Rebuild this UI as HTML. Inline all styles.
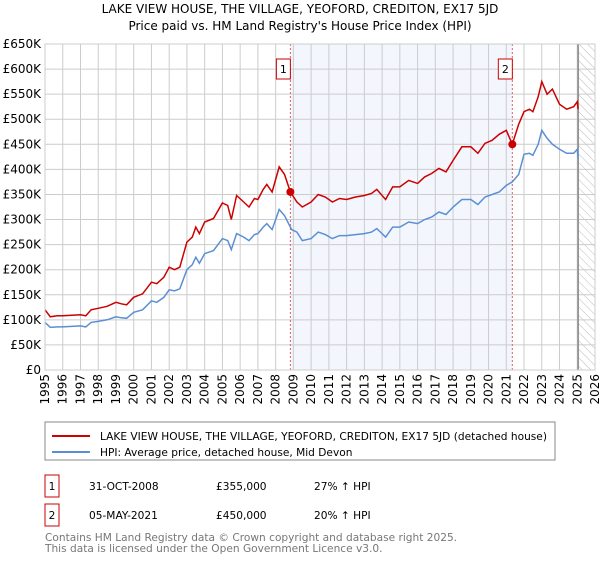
<!DOCTYPE html>
<html><head><meta charset="utf-8"><style>
body{margin:0;background:#fff;font-family:"DejaVu Sans","Liberation Sans",sans-serif;}
svg text{font-family:"DejaVu Sans","Liberation Sans",sans-serif;}
</style></head><body>
<svg id="c" width="600" height="560" viewBox="0 0 600 560" xmlns="http://www.w3.org/2000/svg">
<defs><pattern id="hatch" width="6" height="6" patternUnits="userSpaceOnUse" patternTransform="rotate(-45)"><line x1="0" y1="0" x2="0" y2="6" stroke="#bbb" stroke-width="1"/></pattern></defs>
<text x="300" y="13" text-anchor="middle" font-size="12">LAKE VIEW HOUSE, THE VILLAGE, YEOFORD, CREDITON, EX17 5JD</text>
<text x="300" y="30" text-anchor="middle" font-size="12">Price paid vs. HM Land Registry's House Price Index (HPI)</text>
<g id="plot"></g>
<rect x="45" y="422" width="510" height="38" fill="#fff" stroke="#888"/>
<line x1="52" y1="436" x2="90" y2="436" stroke="#cc0000" stroke-width="2"/>
<text x="100" y="440" font-size="10.6">LAKE VIEW HOUSE, THE VILLAGE, YEOFORD, CREDITON, EX17 5JD (detached house)</text>
<line x1="52" y1="452" x2="90" y2="452" stroke="#5b8fd4" stroke-width="2"/>
<text x="100" y="456" font-size="10.6">HPI: Average price, detached house, Mid Devon</text>
<g font-size="10.6">
<rect x="45" y="475" width="14" height="22" fill="#fff" stroke="#cc0000"/>
<text x="52" y="490" text-anchor="middle">1</text>
<text x="89" y="490">31-OCT-2008</text>
<text x="216" y="490">£355,000</text>
<text x="314" y="490">27% ↑ HPI</text>
<rect x="45" y="504" width="14" height="22" fill="#fff" stroke="#cc0000"/>
<text x="52" y="519" text-anchor="middle">2</text>
<text x="89" y="519">05-MAY-2021</text>
<text x="216" y="519">£450,000</text>
<text x="314" y="519">20% ↑ HPI</text>
</g>
<text x="45" y="541" font-size="10.6" fill="#777">Contains HM Land Registry data © Crown copyright and database right 2025.</text>
<text x="45" y="552" font-size="10.6" fill="#777">This data is licensed under the Open Government Licence v3.0.</text>
</svg>
<script>
const yTicks=[0,50,100,150,200,250,300,350,400,450,500,550,600,650];
const yTickLabels=["£0","£50K","£100K","£150K","£200K","£250K","£300K","£350K","£400K","£450K","£500K","£550K","£600K","£650K"];
const xYears=[1995,1996,1997,1998,1999,2000,2001,2002,2003,2004,2005,2006,2007,2008,2009,2010,2011,2012,2013,2014,2015,2016,2017,2018,2019,2020,2021,2022,2023,2024,2025,2026];
const hpiT=[1995.0,1995.3,1995.7,1996,1996.5,1997,1997.3,1997.6,1998,1998.5,1999,1999.3,1999.6,2000,2000.5,2001,2001.3,2001.7,2002,2002.3,2002.6,2003,2003.3,2003.5,2003.7,2004,2004.5,2005,2005.3,2005.5,2005.8,2006.2,2006.5,2006.8,2007,2007.3,2007.5,2007.8,2008.2,2008.5,2008.9,2009.2,2009.5,2010,2010.4,2010.8,2011.2,2011.6,2012,2012.5,2013,2013.4,2013.7,2014.2,2014.6,2015,2015.5,2016,2016.4,2016.8,2017.2,2017.6,2018,2018.5,2019,2019.4,2019.8,2020.2,2020.6,2021,2021.34,2021.7,2022,2022.3,2022.5,2022.8,2023.0,2023.3,2023.6,2024,2024.4,2024.8,2025.0,2025.05];
const hpiV=[95,85,86,86,87,88,86,95,97,100,106,104,103,115,120,138,135,145,160,158,162,200,210,225,213,232,238,262,258,240,272,265,258,270,272,285,292,280,320,308,280,275,258,262,275,270,262,268,268,270,272,275,282,265,285,285,295,292,300,305,315,310,325,340,340,330,345,350,355,368,375,390,430,432,428,450,478,462,450,440,432,432,440,422];
const redT=[1995.0,1995.3,1995.7,1996,1996.5,1997,1997.3,1997.6,1998,1998.5,1999,1999.3,1999.6,2000,2000.5,2001,2001.3,2001.7,2002,2002.3,2002.6,2003,2003.3,2003.5,2003.7,2004,2004.5,2005,2005.3,2005.5,2005.8,2006.2,2006.5,2006.8,2007,2007.3,2007.5,2007.8,2008.2,2008.5,2008.83,2009.2,2009.5,2010,2010.4,2010.8,2011.2,2011.6,2012,2012.5,2013,2013.4,2013.7,2014.2,2014.6,2015,2015.5,2016,2016.4,2016.8,2017.2,2017.6,2018,2018.5,2019,2019.4,2019.8,2020.2,2020.6,2021,2021.34,2021.7,2022,2022.3,2022.5,2022.8,2023.0,2023.3,2023.6,2024,2024.4,2024.8,2025.0,2025.05];
const redV=[120,106,108,108,109,110,108,120,123,127,135,132,130,145,152,175,172,185,205,200,205,255,265,285,272,295,302,333,328,300,348,335,325,342,340,360,370,355,405,390,355,335,325,335,350,345,335,342,340,345,348,352,360,340,365,365,378,372,385,392,402,395,418,445,445,432,452,458,470,478,450,490,515,520,515,545,575,550,560,530,520,525,535,520];
const sales=[[2008.83,355,"1"],[2021.34,450,"2"]];
const X0=45,X1=595,Y0=370,Y1=44;
const xs=t=>X0+(t-1995)*(X1-X0)/31;
const ys=v=>Y0-v*(Y0-Y1)/650;
const NS="http://www.w3.org/2000/svg";
const g=document.getElementById('plot');
function mk(tag,attrs,parent){const e=document.createElementNS(NS,tag);for(const k in attrs)e.setAttribute(k,attrs[k]);(parent||g).appendChild(e);return e;}
let e=mk('rect',{x:xs(2008.83),y:Y1,width:xs(2021.34)-xs(2008.83),height:Y0-Y1,fill:'#eef2fc',opacity:0.7});


e=mk('rect',{x:xs(2025.05),y:Y1,width:X1-xs(2025.05),height:Y0-Y1,fill:'url(#hatch)'});


yTicks.forEach((v,i)=>{
 let l=mk('line',{x1:X0,x2:X1,y1:ys(v),y2:ys(v),stroke:'#ccc'});
 
 
 let t=mk('text',{x:X0-4,y:ys(v)+4,'text-anchor':'end','font-size':'12'});t.textContent=yTickLabels[i];
 
 
});
xYears.forEach(yr=>{
 let l=mk('line',{x1:xs(yr),x2:xs(yr),y1:Y1,y2:Y0,stroke:'#ccc'});
 
 
 let t=mk('text',{x:0,y:0,'font-size':'12','text-anchor':'end',transform:`translate(${xs(yr)+4},${Y0+4}) rotate(-90)`});t.textContent=yr;
 
 
});
e=mk('line',{x1:xs(2025.05),x2:xs(2025.05),y1:Y1,y2:Y0,stroke:'#888','stroke-width':1.5});


sales.forEach(s=>{
 let l=mk('line',{x1:xs(s[0]),x2:xs(s[0]),y1:Y1,y2:Y0,stroke:'#e06060','stroke-dasharray':'2,2'});
 
 
 let r=mk('rect',{x:xs(s[0])-14,y:59,width:14,height:20,fill:'#fff',stroke:'#cc0000'});
 
 
 let t=mk('text',{x:xs(s[0])-7,y:73,'text-anchor':'middle','font-size':'11'});t.textContent=s[2];
 
 
});
e=mk('path',{d:hpiT.map((t,i)=>(i?'L':'M')+xs(t).toFixed(1)+','+ys(hpiV[i]).toFixed(1)).join(''),fill:'none',stroke:'#5b8fd4','stroke-width':1.5});


e=mk('path',{d:redT.map((t,i)=>(i?'L':'M')+xs(t).toFixed(1)+','+ys(redV[i]).toFixed(1)).join(''),fill:'none',stroke:'#cc0000','stroke-width':1.5});


sales.forEach(s=>{
 let c=mk('circle',{cx:xs(s[0]),cy:ys(s[1]),r:4,fill:'#cc0000'});
 
 
});
e=mk('rect',{x:X0,y:Y1,width:X1-X0,height:Y0-Y1,fill:'none',stroke:'#ccc'});


</script>
</body></html>
